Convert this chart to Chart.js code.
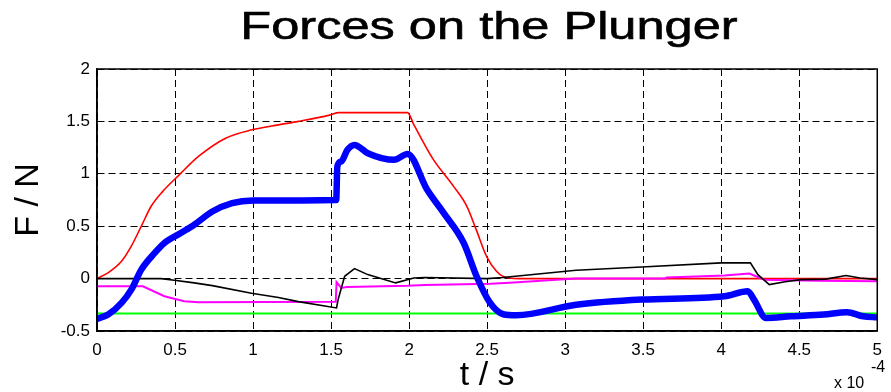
<!DOCTYPE html>
<html lang="en">
<head>
    <meta charset="UTF-8" />
    <title>Forces on the Plunger</title>
    <script src="https://cdn.jsdelivr.net/npm/chart.js"></script>
    <style>
        html, body {
            margin: 0;
            padding: 0;
            background: #fff;
        }
        canvas {
            display: block;
        }
    </style>
</head>
<body>

<canvas id="plungerChart" width="891" height="392"></canvas>

<script>
    // time axis is in units of 1e-4 s
    const xTicks = [0, 0.5, 1, 1.5, 2, 2.5, 3, 3.5, 4, 4.5, 5];
    const yTicks = [-0.5, 0, 0.5, 1, 1.5, 2];

    const redT = [0, 0.07, 0.157, 0.22, 0.284, 0.347, 0.42, 0.527, 0.654, 0.824, 0.993, 1.163, 1.29, 1.49, 1.55, 1.99, 2.03, 2.095, 2.158, 2.285, 2.37, 2.43, 2.497, 2.56, 2.603, 2.7, 5];
    const redF = [0, 0.054, 0.165, 0.31, 0.50, 0.69, 0.83, 0.99, 1.17, 1.34, 1.42, 1.467, 1.50, 1.56, 1.584, 1.584, 1.47, 1.29, 1.13, 0.88, 0.69, 0.467, 0.21, 0.07, 0.02, 0, 0];

    const blueT = [0, 0.072, 0.157, 0.22, 0.284, 0.37, 0.432, 0.537, 0.623, 0.739, 0.866, 1.0, 1.533, 1.54, 1.565, 1.605, 1.65, 1.735, 1.904, 1.99, 2.115, 2.22, 2.35, 2.433, 2.518, 2.603, 2.687, 3.07, 3.49, 4.02, 4.17, 4.21, 4.287, 4.445, 4.656, 4.806, 4.91, 5];
    const blueF = [-0.384, -0.343, -0.232, -0.105, 0.086, 0.245, 0.34, 0.435, 0.514, 0.64, 0.72, 0.745, 0.75, 1.07, 1.117, 1.229, 1.276, 1.197, 1.133, 1.19, 0.85, 0.63, 0.34, 0.02, -0.23, -0.34, -0.35, -0.25, -0.20, -0.168, -0.12, -0.2, -0.375, -0.36, -0.343, -0.32, -0.36, -0.37];

    const blackT = [0, 0.41, 0.496, 0.623, 0.739, 0.99, 1.163, 1.29, 1.535, 1.545, 1.587, 1.65, 1.735, 1.914, 2.03, 2.1, 2.5, 2.6, 3.07, 3.49, 4.0, 4.187, 4.235, 4.308, 4.41, 4.51, 4.67, 4.8, 4.89, 5];
    const blackF = [0, 0, -0.016, -0.041, -0.067, -0.14, -0.18, -0.22, -0.28, -0.2, 0.022, 0.095, 0.038, -0.041, 0.006, 0.01, 0, 0.01, 0.08, 0.11, 0.15, 0.15, 0.038, -0.057, -0.03, -0.01, -0.005, 0.029, 0.005, -0.01];

    const magT = [0, 0.294, 0.432, 0.559, 0.65, 1.53, 1.535, 1.565, 1.6, 1.99, 2.1, 2.52, 2.645, 3.07, 3.64, 3.65, 4.02, 4.18, 4.277, 4.63, 5];
    const magF = [-0.073, -0.073, -0.168, -0.216, -0.225, -0.22, -0.035, -0.089, -0.08, -0.068, -0.06, -0.05, -0.04, 0, 0, 0.01, 0.029, 0.048, -0.01, -0.02, -0.025];

    const greenT = [0, 5];
    const greenF = [-0.333, -0.333];

    const FONT = 'Arial, "Liberation Sans", sans-serif';

    function pts(ts, fs) {
        return ts.map((t, i) => ({ x: t, y: fs[i] }));
    }

    function fmt(v) {
        return String(Math.round(v * 10) / 10);
    }

    // title, exponent note and the closed axes box
    const decorations = {
        id: 'decorations',
        afterDraw(chart) {
            const ctx = chart.ctx;
            const a = chart.chartArea;
            ctx.save();
            ctx.strokeStyle = '#000';
            ctx.lineWidth = 1.5;
            ctx.setLineDash([]);
            ctx.strokeRect(a.left, a.top, a.right - a.left, a.bottom - a.top);

            ctx.fillStyle = '#000';
            ctx.strokeStyle = '#000';
            ctx.lineWidth = 0.6;
            ctx.textBaseline = 'alphabetic';
            ctx.textAlign = 'center';
            ctx.font = '38px ' + FONT;
            ctx.translate(489, 39);
            ctx.scale(1.33, 1);
            ctx.fillText('Forces on the Plunger', 0, 0);
            ctx.strokeText('Forces on the Plunger', 0, 0);
            ctx.restore();

            ctx.save();
            ctx.fillStyle = '#000';
            ctx.textAlign = 'left';
            ctx.textBaseline = 'alphabetic';
            ctx.font = '16px ' + FONT;
            ctx.fillText('x 10', 834, 388);
            ctx.fillText('-4', 871, 372);
            ctx.restore();
        }
    };

    new Chart(document.getElementById('plungerChart'), {
        type: 'line',
        data: {
            datasets: [
                { data: pts(blueT, blueF), borderColor: '#0000ff', borderWidth: 6.5, borderJoinStyle: 'round', borderCapStyle: 'round', cubicInterpolationMode: 'monotone' },
                { data: pts(blackT, blackF), borderColor: '#000000', borderWidth: 1.6 },
                { data: pts(magT, magF), borderColor: '#ff00ff', borderWidth: 2 },
                { data: pts(redT, redF), borderColor: '#ff0000', borderWidth: 1.6, cubicInterpolationMode: 'monotone' },
                { data: pts(greenT, greenF), borderColor: '#00ff00', borderWidth: 2 }
            ]
        },
        options: {
            responsive: false,
            animation: false,
            elements: {
                point: { radius: 0 },
                line: { tension: 0 }
            },
            layout: {
                padding: { top: 69, right: 7, left: 0, bottom: 0 }
            },
            plugins: {
                legend: { display: false },
                tooltip: { enabled: false },
                title: { display: false }
            },
            scales: {
                x: {
                    type: 'linear',
                    min: 0,
                    max: 5,
                    afterBuildTicks: (scale) => { scale.ticks = xTicks.map(v => ({ value: v })); },
                    afterFit: (scale) => { scale.height = 61; },
                    grid: { color: '#000', lineWidth: 1, drawTicks: false },
                    border: { display: true, color: '#000', width: 1.5, dash: [7, 4] },
                    ticks: {
                        color: '#000',
                        padding: 9,
                        maxRotation: 0,
                        font: { family: FONT, size: 17 },
                        callback: fmt
                    },
                    title: {
                        display: true,
                        text: 't / s',
                        color: '#000',
                        font: { family: FONT, size: 34, lineHeight: 0.94 },
                        padding: { top: 0, bottom: 0 }
                    }
                },
                y: {
                    type: 'linear',
                    min: -0.5,
                    max: 2,
                    afterBuildTicks: (scale) => { scale.ticks = yTicks.map(v => ({ value: v })); },
                    afterFit: (scale) => { scale.width = 97; },
                    grid: { color: '#000', lineWidth: 1, drawTicks: false },
                    border: { display: true, color: '#000', width: 1.5, dash: [7, 4] },
                    ticks: {
                        color: '#000',
                        padding: 7,
                        font: { family: FONT, size: 17 },
                        callback: fmt
                    },
                    title: {
                        display: true,
                        text: 'F / N',
                        color: '#000',
                        font: { family: FONT, size: 34 },
                        padding: { top: 8, bottom: 0 }
                    }
                }
            }
        },
        plugins: [decorations]
    });
</script>

</body>
</html>
